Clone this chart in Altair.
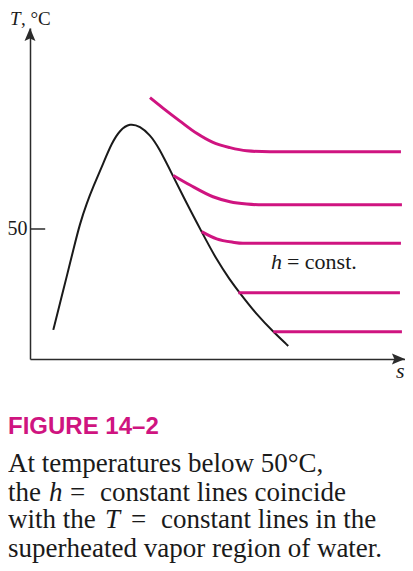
import altair as alt
import pandas as pd

# ---------------- data ----------------
# saturation dome (s in arbitrary units, T in °C)
dome_s = [0.613, 0.789, 0.966, 1.139, 1.316, 1.492, 1.666, 1.929, 2.150, 2.368, 2.632, 2.895,
          3.158, 3.376, 3.771, 4.132, 4.518, 4.913, 5.263, 5.526, 5.966, 6.403, 6.797]
dome_T = [11.2, 21.4, 31.7, 41.9, 52.2, 59.9, 66.3, 75.3, 83.0, 88.1, 90.7, 89.5,
          86.2, 81.7, 70.2, 59.6, 48.9, 38.1, 30.4, 25.3, 17.1, 10.5, 5.0]

# h = const. lines
h1_s = [3.158, 3.508, 3.947, 4.387, 4.816, 5.263, 5.703, 6.316, 9.763]
h1_T = [100.5, 96.4, 91.5, 86.8, 83.3, 81.3, 80.1, 79.7, 79.7]
h2_s = [3.771, 4.211, 4.816, 5.263, 5.703, 6.132, 9.789]
h2_T = [70.6, 66.9, 62.4, 60.5, 59.6, 59.3, 59.3]
h3_s = [4.518, 4.913, 5.342, 5.605, 9.763]
h3_T = [49.0, 46.2, 44.9, 44.5, 44.5]
h4_s = [5.482, 9.737]
h4_T = [25.5, 25.5]
h5_s = [6.403, 9.789]
h5_T = [10.5, 10.5]

y_ticks = [50]
s_domain = [0, 9.87]
T_domain = [0, 127.3]

# axis arrow heads (data position of each head's centre)
arrow_s = [0.0, 9.64]
arrow_T = [124.0, 0.0]
arrow_dir = ["up", "right"]

# texts
y_title_italic = "T"
y_title_rest = ", °C"
x_title = "s"
note_italic = "h"
note_rest = "= const."
note_s = [6.342, 6.763]
note_T = [34.6, 34.6]
fig_title = "FIGURE 14–2"
cap_line1 = "At temperatures below 50°C,"
cap_line2 = ["the", "h", "=", "constant lines coincide"]
cap_line3 = ["with the", "T", "=", "constant lines in the"]
cap_line4 = "superheated vapor region of water."

# ---------------- styles ----------------
MAG = "#cf1480"
INK = "#1a1a1a"
AX = "#2b2b2b"
SERIF = "Liberation Serif"

dome_df = pd.DataFrame({"s": dome_s, "T": dome_T, "i": range(len(dome_s))})
rows = []
for k, (ss, tt) in enumerate([(h1_s, h1_T), (h2_s, h2_T), (h3_s, h3_T), (h4_s, h4_T), (h5_s, h5_T)]):
    for i, (a, b) in enumerate(zip(ss, tt)):
        rows.append({"line": f"h{k+1}", "s": a, "T": b, "i": i})
h_df = pd.DataFrame(rows)
arrow_df = pd.DataFrame({"s": arrow_s, "T": arrow_T, "dir": arrow_dir})

xs = alt.Scale(domain=s_domain, nice=False, zero=False)
ys = alt.Scale(domain=T_domain, nice=False, zero=False)

x_axis = alt.Axis(title=None, labels=False, ticks=False, grid=False,
                  domainColor=AX, domainWidth=1.5)
y_axis = alt.Axis(title=None, values=y_ticks, ticks=False, tickSize=0, grid=False,
                  labelFont=SERIF, labelFontSize=20, labelColor=INK, labelPadding=3,
                  domainColor=AX, domainWidth=1.5)

dome = alt.Chart(dome_df).mark_line(color=INK, strokeWidth=2, interpolate="basis").encode(
    x=alt.X("s:Q", scale=xs, axis=x_axis),
    y=alt.Y("T:Q", scale=ys, axis=y_axis),
    order="i:Q",
)

hlines = alt.Chart(h_df).mark_line(color=MAG, strokeWidth=3, interpolate="monotone").encode(
    x=alt.X("s:Q", scale=xs),
    y=alt.Y("T:Q", scale=ys),
    detail="line:N",
    order="i:Q",
)

tick50 = alt.Chart(pd.DataFrame({"T": y_ticks, "s0": [0.0], "s1": [0.4]})).mark_rule(
    color=AX, strokeWidth=1.5).encode(
    x=alt.X("s0:Q", scale=xs), x2="s1:Q", y=alt.Y("T:Q", scale=ys))

up_path = "M0,-1 L0.63,0.5 L0,0.22 L-0.63,0.5 Z"
right_path = "M1,0 L-0.5,0.63 L-0.22,0 L-0.5,-0.63 Z"
arrows = alt.Chart(arrow_df).mark_point(filled=True, color=AX, opacity=1, size=300, strokeWidth=0).encode(
    x=alt.X("s:Q", scale=xs),
    y=alt.Y("T:Q", scale=ys),
    shape=alt.Shape("dir:N", scale=alt.Scale(domain=["up", "right"], range=[up_path, right_path]), legend=None),
)

note = alt.Chart(pd.DataFrame({"s": note_s, "T": note_T, "t": [note_italic, note_rest],
                               "st": ["italic", "normal"]}))
note_h = note.transform_filter("datum.st == 'italic'").mark_text(
    align="left", baseline="alphabetic", font=SERIF, fontSize=22, fontStyle="italic", color=INK
).encode(x=alt.X("s:Q", scale=xs), y=alt.Y("T:Q", scale=ys), text="t:N")
note_r = note.transform_filter("datum.st == 'normal'").mark_text(
    align="left", baseline="alphabetic", font=SERIF, fontSize=22, color=INK
).encode(x=alt.X("s:Q", scale=xs), y=alt.Y("T:Q", scale=ys), text="t:N")


def label(text, x, y, size, italic=False, font=SERIF, weight="normal", color=INK):
    return alt.Chart(pd.DataFrame({"label": [text]})).mark_text(
        align="left", baseline="alphabetic", font=font, fontSize=size,
        fontStyle="italic" if italic else "normal", fontWeight=weight, color=color,
    ).encode(x=alt.value(x), y=alt.value(y), text="label:N")


X0 = -22  # left edge of caption (plot coordinates)
L1, L2, L3, L4 = 444, 472.7, 500, 528.7
texts = [
    label(y_title_italic, -20, -3, 19, italic=True),
    label(y_title_rest, -9, -3, 19),
    label(x_title, 366, 350, 22, italic=True),
    label(fig_title, X0, 406, 24, font="Liberation Sans", weight="bold", color=MAG),
    label(cap_line1, X0, L1, 27),
    label(cap_line2[0], X0, L2, 27),
    label(cap_line2[1], X0 + 41, L2, 27, italic=True),
    label(cap_line2[2], X0 + 62, L2, 27),
    label(cap_line2[3], X0 + 92, L2, 27),
    label(cap_line3[0], X0, L3, 27),
    label(cap_line3[1], X0 + 97, L3, 27, italic=True),
    label(cap_line3[2], X0 + 123, L3, 27),
    label(cap_line3[3], X0 + 153, L3, 27),
    label(cap_line4, X0, L4, 27),
]

chart = alt.layer(dome, hlines, tick50, arrows, note_h, note_r, *texts).properties(
    width=375, height=331,
    padding={"left": 22, "top": 20, "right": 0, "bottom": 204},
    autosize="none",
    background="white",
).configure_view(stroke=None)

chart.save("out.html", embed_options={"renderer": "svg", "actions": False})
